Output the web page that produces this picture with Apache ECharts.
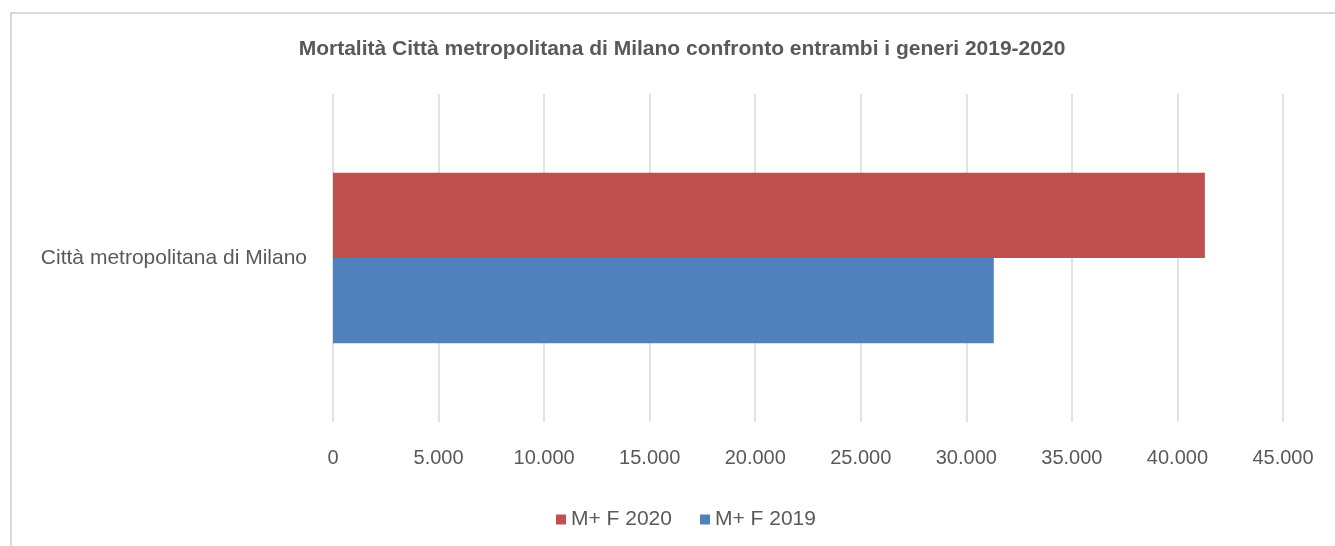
<!DOCTYPE html>
<html>
<head>
<meta charset="utf-8">
<script src="https://cdn.jsdelivr.net/npm/echarts@6/dist/echarts.min.js"></script>
<style>
  html, body { margin: 0; padding: 0; background: #fff; }
  #chart { width: 1335px; height: 546px; }
</style>
</head>
<body>
<div id="chart"></div>
<script>
// dati
const categories = ['Città metropolitana di Milano'];
const seriesNames = ['M+ F 2020', 'M+ F 2019'];
const values2020 = [41300];
const values2019 = [31300];
const legendOrder = ['M+ F 2020', 'M+ F 2019'];

const textColor = '#595959';
const font = 'Liberation Sans, Arial, sans-serif';

function fmt(v) {
    return String(v).replace(/\B(?=(\d{3})+(?!\d))/g, '.');
}

const chart = echarts.init(document.getElementById('chart'));
chart.setOption({
    animation: false,
    title: {
        text: 'Mortalità Città metropolitana di Milano confronto entrambi i generi 2019-2020',
        left: 677,
        textAlign: 'center',
        top: 34,
        textStyle: { fontFamily: font, fontSize: 21, fontWeight: 'bold', color: textColor }
    },
    graphic: [{
        // bordo del riquadro (tagliato a destra e in basso)
        type: 'rect',
        shape: { x: 11, y: 13, width: 1340, height: 550 },
        style: { fill: 'none', stroke: '#D9D9D9', lineWidth: 2 },
        silent: true
    }],
    legend: {
        data: legendOrder,
        bottom: 11,
        left: 551,
        icon: 'rect',
        itemWidth: 10,
        itemHeight: 10,
        itemGap: 28,
        textStyle: { fontFamily: font, fontSize: 21, color: textColor }
    },
    grid: { left: 333, right: 52, top: 94, bottom: 124 },
    xAxis: {
        type: 'value',
        min: 0,
        max: 45000,
        interval: 5000,
        axisLine: { show: false },
        axisTick: { show: false },
        splitLine: { lineStyle: { color: '#D9D9D9', width: 1.5 } },
        axisLabel: {
            margin: 26,
            fontFamily: font, fontSize: 20, color: textColor,
            formatter: fmt
        }
    },
    yAxis: {
        type: 'category',
        data: categories,
        axisLine: { show: false },
        axisTick: { show: false },
        axisLabel: { margin: 26, fontFamily: font, fontSize: 21, color: textColor }
    },
    series: [
        {
            name: seriesNames[0],
            type: 'bar',
            data: values2020,
            itemStyle: { color: '#C0504D' },
            barGap: '0%',
            barCategoryGap: '48%'
        },
        {
            name: seriesNames[1],
            type: 'bar',
            data: values2019,
            itemStyle: { color: '#4F81BD' },
            barGap: '0%',
            barCategoryGap: '48%'
        }
    ]
});
</script>
</body>
</html>
